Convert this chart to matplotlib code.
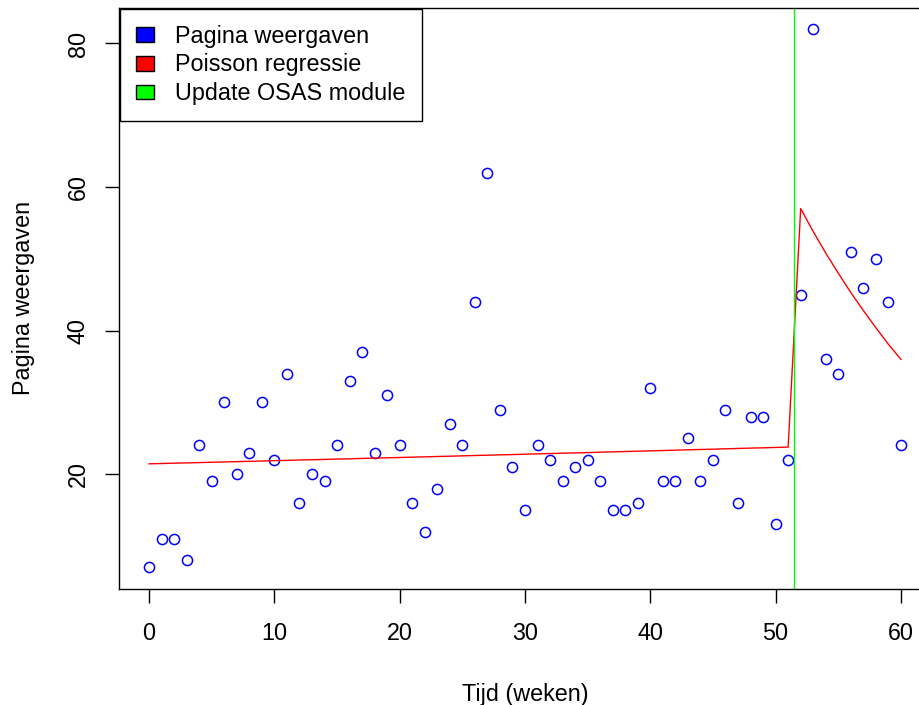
import matplotlib
matplotlib.use("Agg")
import matplotlib.pyplot as plt
from matplotlib.patches import Patch

plt.rcParams['font.family'] = ['Liberation Sans', 'DejaVu Sans']

# weekly page views
weken = list(range(61))
weergaven = [7, 11, 11, 8, 24, 19, 30, 20, 23, 30,
             22, 34, 16, 20, 19, 24, 33, 37, 23, 31,
             24, 16, 12, 18, 27, 24, 44, 62, 29, 21,
             15, 24, 22, 19, 21, 22, 19, 15, 15, 16,
             32, 19, 19, 25, 19, 22, 29, 16, 28, 28,
             13, 22, 45, 82, 36, 34, 51, 46, 50, 44,
             24]

# fitted values of the poisson model
fit = [21.44, 21.48, 21.53, 21.57, 21.61, 21.66, 21.70, 21.74, 21.79, 21.83,
       21.88, 21.92, 21.97, 22.01, 22.05, 22.10, 22.14, 22.19, 22.23, 22.28,
       22.32, 22.37, 22.41, 22.46, 22.50, 22.55, 22.60, 22.64, 22.69, 22.73,
       22.78, 22.83, 22.87, 22.92, 22.96, 23.01, 23.06, 23.11, 23.15, 23.20,
       23.25, 23.29, 23.34, 23.39, 23.44, 23.48, 23.53, 23.58, 23.63, 23.67,
       23.72, 23.77, 57.0, 53.8, 50.8, 48.0, 45.3, 42.8, 40.4, 38.1,
       36.0]

update_week = 51.5

fs = 16.8
fig = plt.figure(figsize=(9.19, 7.05), dpi=100)
ax = fig.add_axes([119/919, 116/705, 812/919, 581.4/705])

ax.plot(weken, weergaven, 'o', mfc='none', mec='#0000FF', ms=7.3, mew=1.1)
ax.plot(weken, fit, color='#FF0000', lw=1.0)
ax.axvline(update_week, color='#00FF00', lw=1.0)

ax.set_xlim(-2.4, 62.4)
ax.set_ylim(4, 85)
ax.set_xticks([0, 10, 20, 30, 40, 50, 60])
ax.set_yticks([20, 40, 60, 80])
for s in ax.spines.values():
    s.set_color('black')
    s.set_linewidth(1.0)
ax.tick_params(axis='x', length=10, width=1, labelsize=fs, pad=14)
ax.tick_params(axis='y', length=10, width=1, labelsize=fs, pad=11)
plt.setp(ax.get_yticklabels(), rotation=90, va='center')

ax.set_xlabel('Tijd (weken)', fontsize=fs, labelpad=27)
ax.set_ylabel('Pagina weergaven', fontsize=fs, labelpad=23)

handles = [Patch(facecolor='#0000FF', edgecolor='black', lw=1),
           Patch(facecolor='#FF0000', edgecolor='black', lw=1),
           Patch(facecolor='#00FF00', edgecolor='black', lw=1)]
labels = ['Pagina weergaven', 'Poisson regressie', 'Update OSAS module']
leg = ax.legend(handles, labels, loc='upper left', bbox_to_anchor=(0, 1),
                fontsize=fs, fancybox=False, framealpha=1, edgecolor='black',
                borderaxespad=0.05, borderpad=0.68, handlelength=0.76,
                handleheight=0.59, handletextpad=0.93, labelspacing=0.25)
leg.get_frame().set_linewidth(1.0)

fig.savefig('out.png', dpi=100)
